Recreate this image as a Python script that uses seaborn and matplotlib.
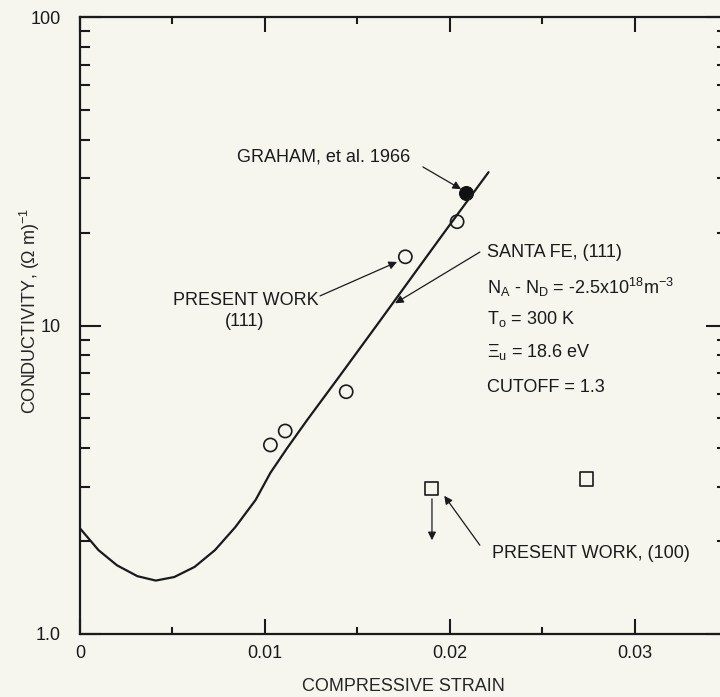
import matplotlib
matplotlib.use("Agg")
import matplotlib.pyplot as plt
from matplotlib.ticker import MultipleLocator, LogLocator, NullFormatter, FixedLocator, FixedFormatter
import numpy as np
import pandas as pd
import seaborn as sns

# Santa Fe (111) calculated curve
curve_strain = [0.0, 0.0010, 0.0020, 0.0031, 0.0041, 0.0051, 0.0062, 0.0073,
                0.0084, 0.0095, 0.0103, 0.0112, 0.0123, 0.0140, 0.0162,
                0.0180, 0.0198, 0.0221]
curve_sigma = [2.2, 1.87, 1.67, 1.54, 1.49, 1.53, 1.65, 1.87,
               2.22, 2.72, 3.33, 4.0, 4.95, 6.8, 10.3,
               14.5, 20.4, 31.4]

# present work (111), open circles
p111_strain = [0.0103, 0.0111, 0.0144, 0.0176, 0.0204]
p111_sigma = [4.1, 4.55, 6.1, 16.7, 21.7]

# Graham et al. 1966, filled circle
graham_strain = [0.0209]
graham_sigma = [26.9]

# present work (100), open squares
p100_strain = [0.0190, 0.0274]
p100_sigma = [2.97, 3.18]

x_ticks = [0.0, 0.01, 0.02, 0.03]
x_labels = ["0", "0.01", "0.02", "0.03"]
y_ticks = [1, 10, 100]
y_labels = ["1.0", "10", "100"]

BG = "#f6f6ef"
INK = "#1a1a1a"

sns.set_style("ticks")
plt.rcParams["font.family"] = ["Liberation Sans", "DejaVu Sans"]
plt.rcParams["mathtext.fontset"] = "custom"
plt.rcParams["mathtext.rm"] = "Liberation Sans"
plt.rcParams["mathtext.it"] = "Liberation Sans"
plt.rcParams["mathtext.bf"] = "Liberation Sans"

fig = plt.figure(figsize=(7.2, 6.97), dpi=100, facecolor=BG)
ax = fig.add_axes([80 / 720, 1 - 634 / 697, 647 / 720, 617 / 697])
ax.set_facecolor(BG)
ax.set_yscale("log")

curve = pd.DataFrame({"strain": curve_strain, "sigma": curve_sigma})
sns.lineplot(data=curve, x="strain", y="sigma", color=INK, lw=1.6,
             sort=False, ax=ax)

sns.scatterplot(x=p111_strain, y=p111_sigma, marker="o", s=90,
                facecolor="none", edgecolor=INK, linewidth=1.2, ax=ax)
sns.scatterplot(x=graham_strain, y=graham_sigma, marker="o", s=100,
                color="#111111", edgecolor="#111111", ax=ax)
sns.scatterplot(x=p100_strain, y=p100_sigma, marker="s", s=90,
                facecolor="none", edgecolor=INK, linewidth=1.2, ax=ax)

ax.set_xlim(0, 0.035)
ax.set_ylim(1, 100)

ax.xaxis.set_major_locator(FixedLocator(x_ticks))
ax.xaxis.set_major_formatter(FixedFormatter(x_labels))
ax.xaxis.set_minor_locator(MultipleLocator(0.005))
ax.yaxis.set_major_locator(FixedLocator(y_ticks))
ax.yaxis.set_major_formatter(FixedFormatter(y_labels))
ax.yaxis.set_minor_locator(LogLocator(base=10, subs=np.arange(2, 10)))
ax.yaxis.set_minor_formatter(NullFormatter())

ax.tick_params(which="both", direction="in", top=True, right=True,
               colors=INK, labelsize=13, width=1.5)
ax.tick_params(axis="x", which="major", length=11, pad=8)
ax.tick_params(axis="x", which="minor", length=5)
ax.tick_params(axis="y", which="major", length=15, pad=14)
ax.tick_params(axis="y", which="minor", length=7)
for sp in ax.spines.values():
    sp.set_linewidth(1.6)
    sp.set_color(INK)

ax.set_xlabel("COMPRESSIVE STRAIN", fontsize=13)
ax.set_ylabel(r"CONDUCTIVITY, ($\Omega$ m)$^{-1}$", fontsize=13)
ax.xaxis.set_label_coords(0.5, -(678 - 634) / 617)
ax.yaxis.set_label_coords(-(80 - 42) / 647, (634 - 311) / 617)

tk = dict(transform=ax.transAxes, fontsize=13, color=INK, va="center")
ax.text(0.243, 0.773, "GRAHAM, et al. 1966", ha="left", **tk)
ax.text(0.257, 0.540, "PRESENT WORK", ha="center", **tk)
ax.text(0.255, 0.506, "(111)", ha="center", **tk)
ax.text(0.629, 0.619, "SANTA FE, (111)", ha="left", **tk)
ax.text(0.629, 0.562, r"N$_{\mathrm{A}}$ - N$_{\mathrm{D}}$ = -2.5x10$^{18}$m$^{-3}$", ha="left", **tk)
ax.text(0.629, 0.510, r"T$_{\mathrm{o}}$ = 300 K", ha="left", **tk)
ax.text(0.629, 0.457, r"$\Xi_{\mathrm{u}}$ = 18.6 eV", ha="left", **tk)
ax.text(0.629, 0.399, "CUTOFF = 1.3", ha="left", **tk)
ax.text(0.637, 0.131, "PRESENT WORK, (100)", ha="left", **tk)

arrows = [
    ((0.530, 0.757), (0.589, 0.721)),
    ((0.371, 0.548), (0.490, 0.603)),
    ((0.618, 0.619), (0.487, 0.536)),
    ((0.618, 0.144), (0.563, 0.224)),
    ((0.544, 0.219), (0.544, 0.152)),
]
for start, end in arrows:
    ax.annotate("", xy=end, xytext=start, xycoords="axes fraction",
                textcoords="axes fraction",
                arrowprops=dict(arrowstyle="-|>", color=INK, lw=0.9,
                                mutation_scale=12, shrinkA=0, shrinkB=0))

fig.savefig("out.png", dpi=100, facecolor=BG)
